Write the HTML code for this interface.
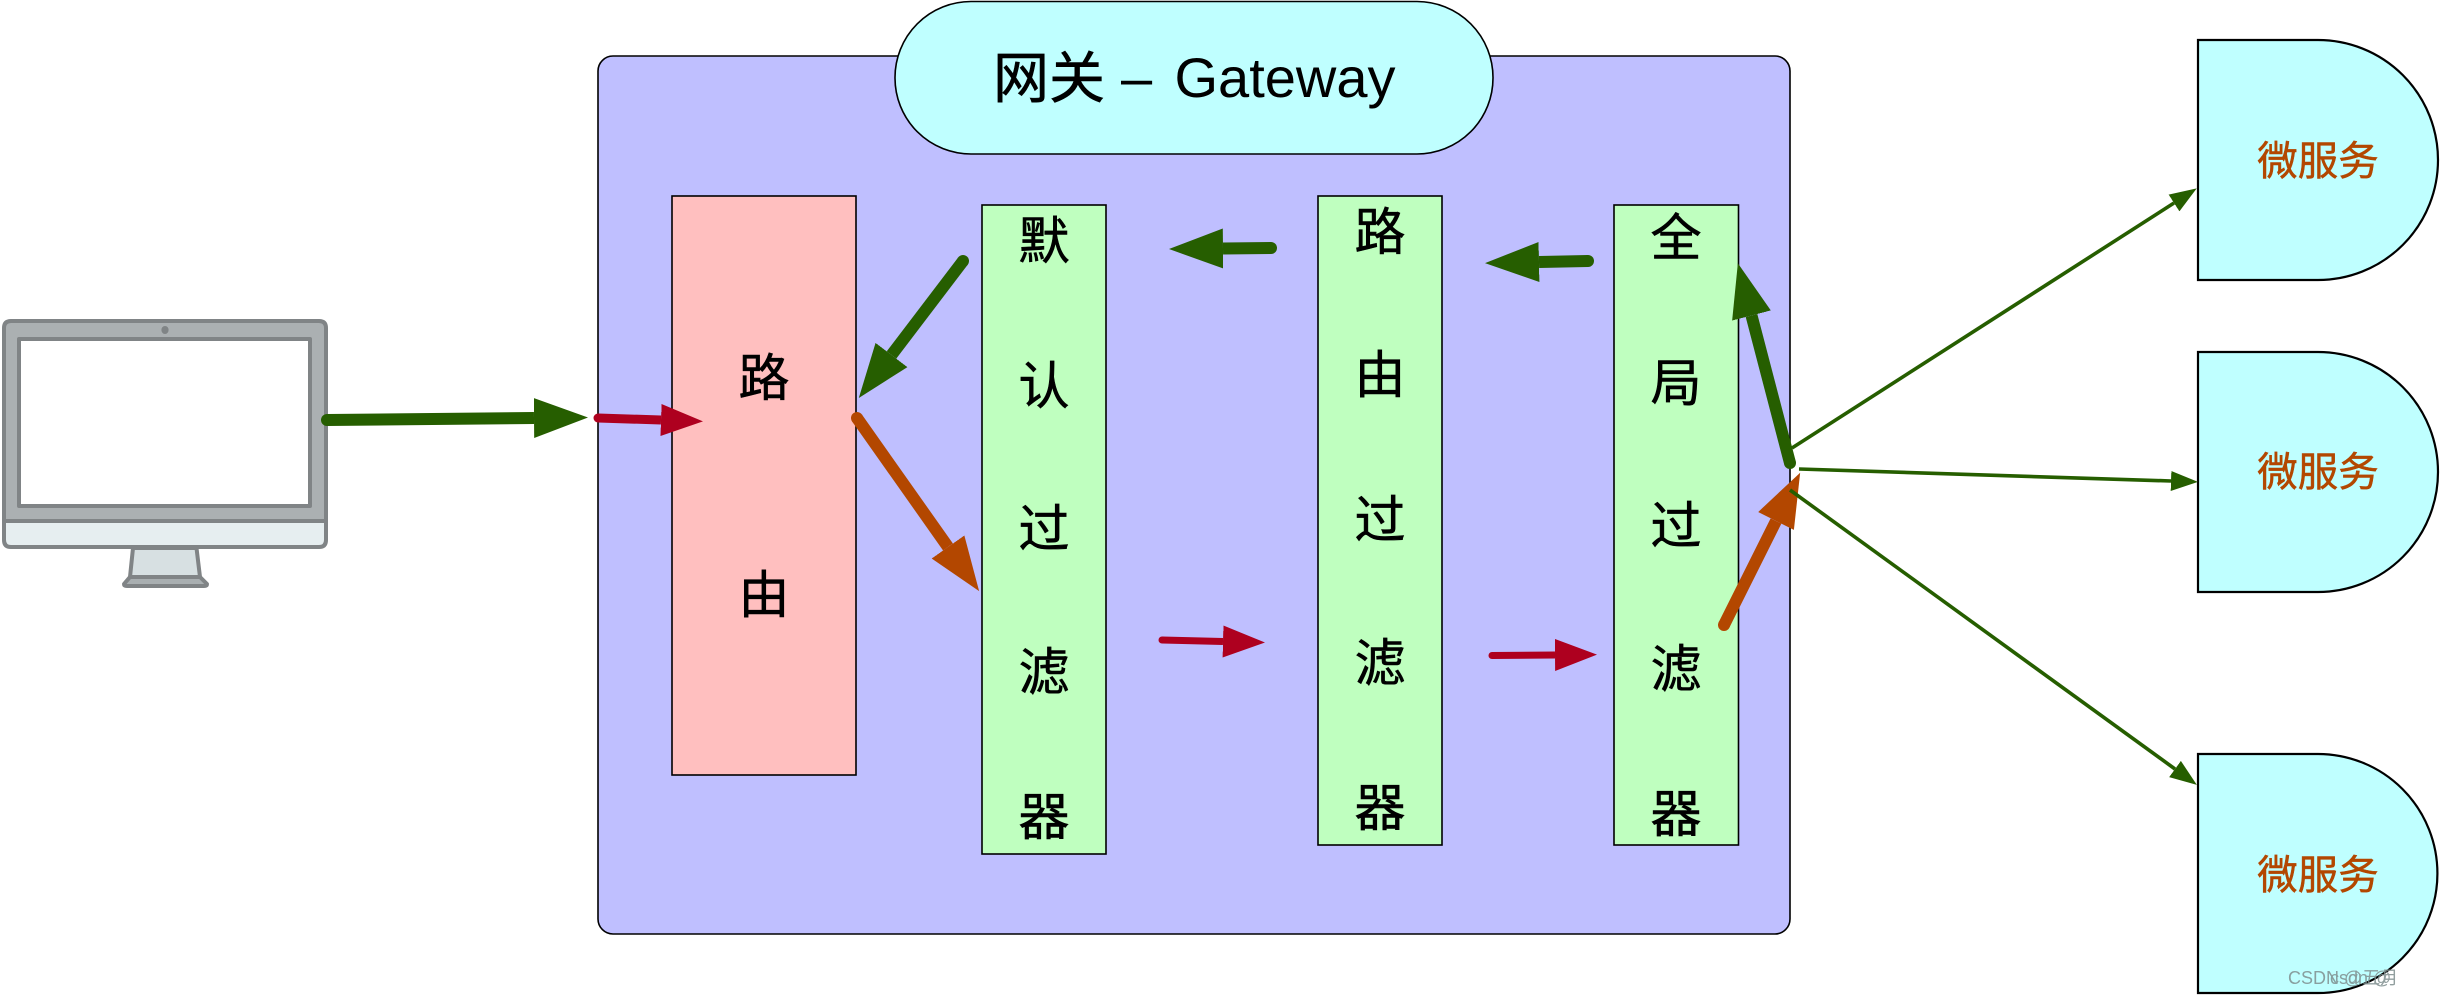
<!DOCTYPE html>
<html><head><meta charset="utf-8"><style>
html,body{margin:0;padding:0;background:#fff;width:2440px;height:996px;overflow:hidden}
svg{display:block}
text{font-family:"Liberation Sans","Noto Sans CJK SC",sans-serif}
</style></head><body>
<svg width="2440" height="996" viewBox="0 0 2440 996" xmlns="http://www.w3.org/2000/svg">
<defs>
<marker id="gb" markerUnits="userSpaceOnUse" markerWidth="56" markerHeight="42" refX="0" refY="20" orient="auto"><path d="M0,0L54,20L0,40Z" fill="#265e00"/></marker>
<marker id="ob" markerUnits="userSpaceOnUse" markerWidth="56" markerHeight="42" refX="0" refY="20" orient="auto"><path d="M0,0L54,20L0,40Z" fill="#b34700"/></marker>
<marker id="r" markerUnits="userSpaceOnUse" markerWidth="44" markerHeight="34" refX="0" refY="16" orient="auto"><path d="M0,0L42,16L0,32Z" fill="#ae001f"/></marker>
<marker id="gs" markerUnits="userSpaceOnUse" markerWidth="28" markerHeight="22" refX="0" refY="10" orient="auto"><path d="M0,0L27,10L0,20Z" fill="#265e00"/></marker>
</defs>

<rect x="598" y="56" width="1192" height="878" rx="15" fill="#bfbfff" stroke="#000" stroke-width="1.6"/>
<rect x="895" y="1.5" width="598" height="152.5" rx="76" fill="#bfffff" stroke="#000" stroke-width="1.6"/>
<g font-size="56">
<text x="993" y="98" stroke="#000" stroke-width=".6">网关</text>
<text x="1121" y="97">–</text>
<text x="1174.5" y="97">Gateway</text>
</g>

<rect x="672" y="196" width="184" height="579" fill="#ffbfbf" stroke="#000" stroke-width="1.6"/>
<rect x="982" y="205" width="124" height="649" fill="#bfffbf" stroke="#000" stroke-width="1.6"/>
<rect x="1318" y="196" width="124" height="649" fill="#bfffbf" stroke="#000" stroke-width="1.6"/>
<rect x="1614" y="205" width="124.5" height="640" fill="#bfffbf" stroke="#000" stroke-width="1.6"/>

<g font-size="51" text-anchor="middle" stroke="#000" stroke-width=".6">
<text x="764" y="396">路</text><text x="764" y="613">由</text>
<text x="1044" y="259">默</text><text x="1044" y="404">认</text><text x="1044" y="547">过</text><text x="1044" y="690">滤</text><text x="1044" y="835">器</text>
<text x="1380" y="250">路</text><text x="1380" y="393">由</text><text x="1380" y="538">过</text><text x="1380" y="681">滤</text><text x="1380" y="826">器</text>
<text x="1676" y="256">全</text><text x="1676" y="401">局</text><text x="1676" y="544">过</text><text x="1676" y="687">滤</text><text x="1676" y="832">器</text>
</g>

<g fill="#bfffff" stroke="#000" stroke-width="2.2">
<path d="M2198,40H2318A120,120 0 0 1 2318,280H2198Z"/>
<path d="M2198,352H2318A120,120 0 0 1 2318,592H2198Z"/>
<path d="M2198,754H2318A119.5,119.5 0 0 1 2318,993H2198Z"/>
</g>
<g font-size="40.5" text-anchor="middle" fill="#b34700" stroke="#b34700" stroke-width=".5">
<text x="2318" y="175">微服务</text>
<text x="2318" y="486">微服务</text>
<text x="2318" y="889">微服务</text>
</g>

<!-- monitor -->
<g stroke="#808486" stroke-width="4" stroke-linejoin="round">
<path d="M133,548L130,577H200L196.5,548Z" fill="#d7e0e2"/>
<path d="M130,577L124,584Q124,586 127,586H204Q207,586 207,584L200,577Z" fill="#a9afb1"/>
<path d="M4,521V328Q4,321 11,321H319Q326,321 326,328V521Z" fill="#abb0b2"/>
<path d="M4,521V540Q4,547 11,547H319Q326,547 326,540V521Z" fill="#e6eef0"/>
<rect x="19" y="339" width="291" height="167" fill="#fff"/>
</g>
<ellipse cx="165" cy="330" rx="3.6" ry="4" fill="#808486"/>

<!-- arrows -->
<g fill="none">
<path d="M327,420L534,418" stroke="#265e00" stroke-width="12" marker-end="url(#gb)"/>
<circle cx="327" cy="420" r="6" fill="#265e00"/>
<path d="M598,418L661,420" stroke="#ae001f" stroke-width="9" marker-end="url(#r)"/>
<circle cx="598" cy="418" r="4.5" fill="#ae001f"/>
<path d="M963,261L891.5,355" stroke="#265e00" stroke-width="12" marker-end="url(#gb)"/>
<circle cx="963" cy="261" r="6" fill="#265e00"/>
<path d="M857,418L948,547" stroke="#b34700" stroke-width="12" marker-end="url(#ob)"/>
<circle cx="857" cy="418" r="6" fill="#b34700"/>
<path d="M1271,248L1223,248.5" stroke="#265e00" stroke-width="12" marker-end="url(#gb)"/>
<circle cx="1271" cy="248" r="6" fill="#265e00"/>
<path d="M1588,261L1539,262" stroke="#265e00" stroke-width="12" marker-end="url(#gb)"/>
<circle cx="1588" cy="261" r="6" fill="#265e00"/>
<path d="M1162,640L1223,641.5" stroke="#ae001f" stroke-width="7" marker-end="url(#r)"/>
<circle cx="1162" cy="640" r="3.5" fill="#ae001f"/>
<path d="M1492,655.5L1555,655" stroke="#ae001f" stroke-width="7" marker-end="url(#r)"/>
<circle cx="1492" cy="655.5" r="3.5" fill="#ae001f"/>
<path d="M1724,625L1776,521" stroke="#b34700" stroke-width="12" marker-end="url(#ob)"/>
<circle cx="1724" cy="625" r="6" fill="#b34700"/>
<path d="M1790,463L1751.5,315.5" stroke="#265e00" stroke-width="12" marker-end="url(#gb)"/>
<circle cx="1790" cy="463" r="6" fill="#265e00"/>
<path d="M1792,448L2174,203" stroke="#265e00" stroke-width="3.6" marker-end="url(#gs)"/>
<path d="M1799,469L2171,481" stroke="#265e00" stroke-width="3.6" marker-end="url(#gs)"/>
<path d="M1790,490L2175,769" stroke="#265e00" stroke-width="3.6" marker-end="url(#gs)"/>
</g>

<!-- watermark -->
<g font-size="18" fill="#7f8f8f" opacity=".85">
<text x="2288" y="984">CSDN @五月</text>
<text x="2330" y="984">csdn @</text>
</g>
</svg>
</body></html>
